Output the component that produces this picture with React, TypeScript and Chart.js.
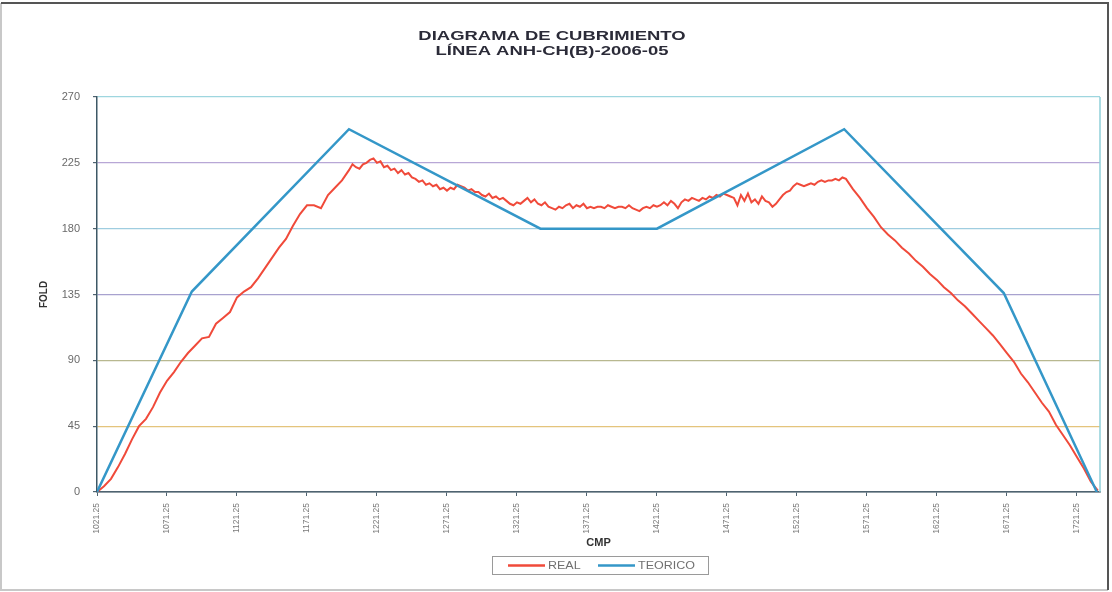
import React, { useEffect, useRef } from "react";
import { Chart, registerables } from "chart.js";

Chart.register(...registerables);

const titleLines = ["DIAGRAMA DE CUBRIMIENTO", "LÍNEA ANH-CH(B)-2006-05"];
const yAxisTitle = "FOLD";
const xAxisTitle = "CMP";

const yTicks = [0, 45, 90, 135, 180, 225, 270];
const yGridColors = ["#4f6370", "#e4c47c", "#b8b890", "#a8a2cf", "#9fcde0", "#b8a7d6", "#9ed6df"];

const xTickValues = [1021.25, 1071.25, 1121.25, 1171.25, 1221.25, 1271.25, 1321.25, 1371.25, 1421.25, 1471.25, 1521.25, 1571.25, 1621.25, 1671.25, 1721.25];
const xTickLabels = ["1021.25", "1071.25", "1121.25", "1171.25", "1221.25", "1271.25", "1321.25", "1371.25", "1421.25", "1471.25", "1521.25", "1571.25", "1621.25", "1671.25", "1721.25"];

// TEORICO
const teoCmp = [1021.25, 1089, 1201.25, 1338, 1421.25, 1555, 1669, 1735.5];
const teoFold = [0, 137, 248, 180, 180, 248, 136, 0];

// REAL (rise)
const realCmpRise = [1021.25, 1026.25, 1031.25, 1036.25, 1041.25, 1046.25, 1051.25, 1056.25, 1061.25, 1066.25, 1071.25, 1076.25, 1081.25, 1086.25, 1091.25, 1096.25, 1101.25, 1106.25, 1111.25, 1116.25, 1121.25, 1126.25, 1131.25, 1136.25, 1141.25, 1146.25, 1151.25, 1156.25, 1161.25, 1166.25, 1171.25, 1176.25, 1181.25, 1186.25, 1191.25, 1196.25];
const realFoldRise = [0, 4, 9, 17, 26, 36, 45, 50, 58, 68, 76, 82, 89, 95, 100, 105, 106, 115, 119, 123, 133, 137, 140, 146, 153, 160, 167, 173, 182, 190, 196, 196, 194, 203, 208, 213];

// REAL (plateau)
const realCmpMid = [
  1201.25, 1203.75, 1206.25, 1208.75, 1211.25, 1213.75, 1216.25, 1218.75,
  1221.25, 1223.75, 1226.25, 1228.75, 1231.25, 1233.75, 1236.25, 1238.75,
  1241.25, 1243.75, 1246.25, 1248.75, 1251.25, 1253.75, 1256.25, 1258.75,
  1261.25, 1263.75, 1266.25, 1268.75, 1271.25, 1273.75, 1276.25, 1278.75,
  1281.25, 1283.75, 1286.25, 1288.75, 1291.25, 1293.75, 1296.25, 1298.75,
  1301.25, 1303.75, 1306.25, 1308.75, 1311.25, 1313.75, 1316.25, 1318.75,
  1321.25, 1323.75, 1326.25, 1328.75, 1331.25, 1333.75, 1336.25, 1338.75,
  1341.25, 1343.75, 1346.25, 1348.75, 1351.25, 1353.75, 1356.25, 1358.75,
  1361.25, 1363.75, 1366.25, 1368.75, 1371.25, 1373.75, 1376.25, 1378.75,
  1381.25, 1383.75, 1386.25, 1388.75, 1391.25, 1393.75, 1396.25, 1398.75,
  1401.25, 1403.75, 1406.25, 1408.75, 1411.25, 1413.75, 1416.25, 1418.75,
  1421.25, 1423.75, 1426.25, 1428.75, 1431.25, 1433.75, 1436.25, 1438.75,
  1441.25, 1443.75, 1446.25, 1448.75, 1451.25, 1453.75, 1456.25, 1458.75,
  1461.25, 1463.75, 1466.25, 1468.75, 1471.25, 1473.75, 1476.25, 1478.75,
  1481.25, 1483.75, 1486.25, 1488.75, 1491.25, 1493.75, 1496.25, 1498.75,
  1501.25, 1503.75, 1506.25, 1508.75, 1511.25, 1513.75, 1516.25, 1518.75,
  1521.25, 1523.75, 1526.25, 1528.75, 1531.25, 1533.75, 1536.25, 1538.75,
  1541.25, 1543.75, 1546.25, 1548.75, 1551.25, 1553.75, 1556.25,
];
const realFoldMid = [
  220, 224, 222, 221, 224, 225, 227, 228,
  225, 226, 222, 223, 220, 221, 218, 220,
  217, 218, 215, 214, 212, 213, 210, 211,
  209, 210, 207, 208, 206, 208, 207, 210,
  209, 208, 206, 207, 205, 205, 203, 202,
  204, 201, 202, 200, 201, 199, 197, 196,
  198, 197, 199, 201, 198, 200, 197, 196,
  198, 195, 194, 193, 195, 194, 196, 197,
  194, 196, 195, 197, 194, 195, 194, 195,
  195, 194, 196, 195, 194, 195, 195, 194,
  196, 194, 193, 192, 194, 195, 194, 196,
  195, 196, 198, 196, 199, 197, 194, 198,
  200, 199, 201, 200, 199, 201, 200, 202,
  201, 203, 202, 204, 203, 202, 201, 196,
  203, 199, 204, 198, 200, 197, 202, 199,
  198, 195, 197, 200, 203, 205, 206, 209,
  211, 210, 209, 210, 211, 210, 212, 213,
  212, 213, 213, 214, 213, 215, 214,
];

// REAL (fall)
const realCmpFall = [1561.25, 1566.25, 1571.25, 1576.25, 1581.25, 1586.25, 1591.25, 1596.25, 1601.25, 1606.25, 1611.25, 1616.25, 1621.25, 1626.25, 1631.25, 1636.25, 1641.25, 1646.25, 1651.25, 1656.25, 1661.25, 1666.25, 1671.25, 1676.25, 1681.25, 1686.25, 1691.25, 1696.25, 1701.25, 1706.25, 1711.25, 1716.25, 1721.25, 1726.25, 1731.25, 1736.25];
const realFoldFall = [207, 201, 194, 188, 181, 176, 172, 167, 163, 158, 154, 149, 145, 140, 136, 131, 127, 122, 117, 112, 107, 101, 95, 89, 81, 75, 68, 61, 55, 46, 39, 32, 24, 16, 7, 1];

const FONT = "'Liberation Sans', Arial, sans-serif";

const decorPlugin = {
  id: "decor",
  beforeDraw(chart: any) {
    const { ctx, width, height } = chart;
    ctx.save();
    ctx.fillStyle = "#ffffff";
    ctx.fillRect(0, 0, width, height);
    ctx.restore();
  },
  afterDraw(chart: any) {
    const { ctx, chartArea: a } = chart;
    ctx.save();
    // right border of plot area
    ctx.strokeStyle = "#8fcfd8";
    ctx.lineWidth = 1.5;
    ctx.beginPath();
    ctx.moveTo(a.right, a.top);
    ctx.lineTo(a.right, a.bottom);
    ctx.stroke();

    // outer frame: dark top/right, faint left/bottom
    ctx.lineWidth = 2;
    ctx.strokeStyle = "#c8c8c8";
    ctx.beginPath();
    ctx.moveTo(1, 3);
    ctx.lineTo(1, 590);
    ctx.lineTo(1108, 590);
    ctx.stroke();
    ctx.strokeStyle = "#555555";
    ctx.beginPath();
    ctx.moveTo(1, 3);
    ctx.lineTo(1108, 3);
    ctx.lineTo(1108, 590);
    ctx.stroke();

    // title
    ctx.fillStyle = "#2b2b38";
    ctx.font = `bold 13px ${FONT}`;
    ctx.textAlign = "center";
    ctx.textBaseline = "middle";
    titleLines.forEach((t, i) => {
      ctx.save();
      ctx.translate(552, 36 + i * 15);
      ctx.scale(1.42, 1);
      ctx.fillText(t, 0, 0);
      ctx.restore();
    });

    // legend
    ctx.strokeStyle = "#9a9a9a";
    ctx.lineWidth = 1;
    ctx.strokeRect(492.5, 556.5, 216, 18);
    const items = chart.data.datasets.map((d: any) => ({ label: d.label, color: d.borderColor }));
    const slots = [508, 598];
    ctx.font = `10px ${FONT}`;
    ctx.textAlign = "left";
    ctx.fillStyle = "#707070";
    items.forEach((it: any, i: number) => {
      const x0 = slots[i];
      ctx.strokeStyle = it.color;
      ctx.lineWidth = 2.5;
      ctx.beginPath();
      ctx.moveTo(x0, 565.5);
      ctx.lineTo(x0 + 37, 565.5);
      ctx.stroke();
      ctx.save();
      ctx.translate(x0 + 40, 566);
      ctx.scale(1.25, 1);
      ctx.fillText(it.label, 0, 0);
      ctx.restore();
    });
    ctx.restore();
  },
};

export default function App() {
  const canvasRef = useRef<HTMLCanvasElement | null>(null);

  useEffect(() => {
    if (!canvasRef.current) return;
    const realCmp = [...realCmpRise, ...realCmpMid, ...realCmpFall];
    const realFold = [...realFoldRise, ...realFoldMid, ...realFoldFall];
    const chart = new Chart(canvasRef.current, {
      type: "line",
      data: {
        datasets: [
          {
            label: "REAL",
            data: realCmp.map((x, i) => ({ x, y: realFold[i] })),
            borderColor: "#f04a3a",
            borderWidth: 2,
            pointRadius: 0,
            tension: 0,
            order: 1,
          },
          {
            label: "TEORICO",
            data: teoCmp.map((x, i) => ({ x, y: teoFold[i] })),
            borderColor: "#3497c8",
            borderWidth: 2.5,
            pointRadius: 0,
            tension: 0,
            order: 0,
          },
        ],
      },
      options: {
        animation: false,
        responsive: false,
        layout: { padding: { top: 97, right: 12, bottom: 42, left: 0 } },
        plugins: {
          legend: { display: false },
          title: { display: false },
          tooltip: { enabled: false },
        },
        scales: {
          x: {
            type: "linear",
            min: 1021.25,
            max: 1737.75,
            afterBuildTicks: (scale: any) => {
              scale.ticks = xTickValues.map((v) => ({ value: v }));
            },
            afterFit: (scale: any) => {
              scale.height = 58;
            },
            ticks: {
              autoSkip: false,
              minRotation: 90,
              maxRotation: 90,
              padding: 7,
              color: "#7a7a7a",
              font: { family: FONT, size: 8.5 },
              callback: (_v: any, i: number) => xTickLabels[i],
            },
            grid: {
              drawOnChartArea: false,
              drawTicks: true,
              tickLength: 4,
              tickColor: "#4f6370",
            },
            border: { display: true, color: "#4f6370", width: 1.5 },
            title: {
              display: true,
              text: xAxisTitle,
              color: "#333333",
              font: { family: FONT, size: 11, weight: "bold" },
              padding: { top: 0, bottom: 0 },
            },
          },
          y: {
            min: 0,
            max: 270,
            afterBuildTicks: (scale: any) => {
              scale.ticks = yTicks.map((v) => ({ value: v }));
            },
            afterFit: (scale: any) => {
              scale.width = 97;
            },
            ticks: {
              padding: 13,
              color: "#6a6a6a",
              font: { family: FONT, size: 11 },
            },
            grid: {
              color: (ctx: any) => yGridColors[yTicks.indexOf(ctx.tick?.value)] || "#cccccc",
              lineWidth: 1.2,
              drawTicks: true,
              tickLength: 4,
              tickColor: "#4f6370",
            },
            border: { display: true, color: "#3d5866", width: 1.5 },
            title: {
              display: true,
              text: yAxisTitle,
              color: "#333333",
              font: { family: FONT, size: 10, weight: "bold" },
              padding: { top: 38, bottom: 0 },
            },
          },
        },
      },
      plugins: [decorPlugin],
    });
    return () => chart.destroy();
  }, []);

  return (
    <div style={{ position: "absolute", left: 0, top: 0, width: 1112, height: 592 }}>
      <canvas ref={canvasRef} width={1112} height={592} />
    </div>
  );
}
